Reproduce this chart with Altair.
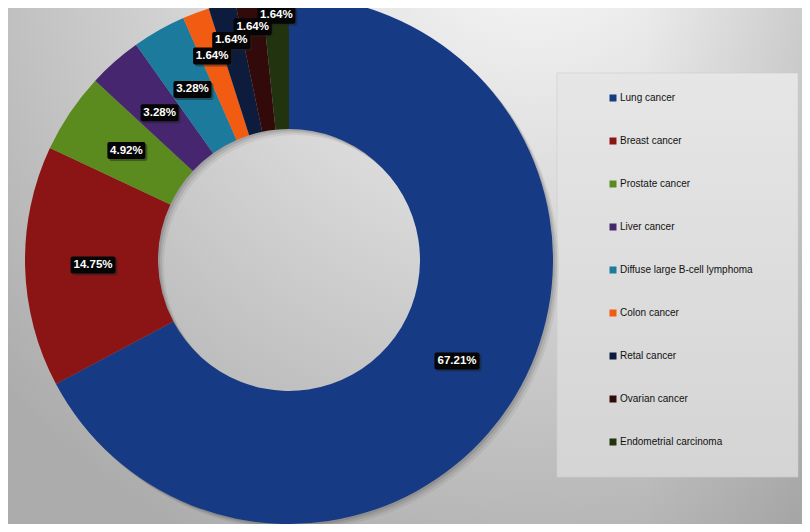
import altair as alt
import pandas as pd

# ---- data ----
categories = ["Lung cancer", "Breast cancer", "Prostate cancer", "Liver cancer",
              "Diffuse large B-cell lymphoma", "Colon cancer", "Retal cancer",
              "Ovarian cancer", "Endometrial carcinoma"]
cases = [41, 9, 3, 2, 2, 1, 1, 1, 1]
shares = [67.21, 14.75, 4.92, 3.28, 3.28, 1.64, 1.64, 1.64, 1.64]
labels = ["67.21%", "14.75%", "4.92%", "3.28%", "3.28%", "1.64%", "1.64%", "1.64%", "1.64%"]
colors = ["#173a85", "#8b1514", "#5b8a1f", "#45266f", "#1c7a9c",
          "#f25c12", "#0d1b3d", "#330a0a", "#22330f"]

df = pd.DataFrame({"cancer": categories, "cases": cases, "share": shares,
                   "label": labels, "rank": list(range(len(categories)))})
one = pd.DataFrame({"k": [0]})

W, H = 794, 516
CX, CY = 281, 252
R_OUT, R_IN = 264, 131

# background
bg = alt.Chart(one).mark_rect(fill={
    "gradient": "radial", "x1": 0.66, "y1": 0.05, "r1": 0.0,
    "x2": 0.66, "y2": 0.05, "r2": 0.9,
    "stops": [{"offset": 0.0, "color": "#fbfbfb"},
              {"offset": 0.35, "color": "#e0e0e0"},
              {"offset": 0.7, "color": "#c4c4c4"},
              {"offset": 1.0, "color": "#acacac"}]}).encode(
    x=alt.value(0), x2=alt.value(W), y=alt.value(0), y2=alt.value(H))

vign = alt.Chart(one).mark_rect(fill={
    "gradient": "linear", "x1": 0, "y1": 0, "x2": 1, "y2": 0,
    "stops": [{"offset": 0.0, "color": "rgba(0,0,0,0)"},
              {"offset": 0.8, "color": "rgba(0,0,0,0)"},
              {"offset": 1.0, "color": "rgba(0,0,0,0.07)"}]}).encode(
    x=alt.value(0), x2=alt.value(W), y=alt.value(0), y2=alt.value(H))

legend_box = alt.Chart(one).mark_rect(fill={
    "gradient": "linear", "x1": 0, "y1": 0, "x2": 0, "y2": 1,
    "stops": [{"offset": 0.0, "color": "#e6e6e6"},
              {"offset": 1.0, "color": "#d4d4d4"}]},
    stroke="#cfcfcf", strokeWidth=0.6).encode(
    x=alt.value(549), x2=alt.value(790), y=alt.value(65), y2=alt.value(469))

# donut shadows
shadows = []
for off, op in [(2, 0.10), (4, 0.08), (6, 0.05)]:
    shadows.append(alt.Chart(one).mark_arc(
        outerRadius=R_OUT, innerRadius=R_IN, color="#000000", opacity=op).encode(
        theta=alt.value(0), theta2=alt.value(6.2832),
        x=alt.value(CX + off), y=alt.value(CY + off)))

arcs = alt.Chart(df).mark_arc(outerRadius=R_OUT, innerRadius=R_IN).encode(
    theta=alt.Theta("cases:Q", stack=True),
    order=alt.Order("rank:Q"),
    color=alt.Color("cancer:N", sort=categories,
                    scale=alt.Scale(domain=categories, range=colors),
                    legend=alt.Legend(title=None, orient="none", legendX=600, legendY=85,
                                      symbolType="square", symbolSize=49,
                                      symbolStrokeWidth=0, symbolOpacity=1,
                                      labelFontSize=10, labelFont="Liberation Sans",
                                      labelColor="#111111", labelOffset=2,
                                      rowPadding=33, padding=0, labelLimit=300)),
    x=alt.value(CX), y=alt.value(CY))

lab = alt.Chart(df).transform_joinaggregate(
    total="sum(cases)"
).transform_window(
    cum="sum(cases)", sort=[alt.SortField("rank")], frame=[None, 0]
).transform_calculate(
    mid="2*PI*(datum.cum - datum.cases/2)/datum.total",
    lr="datum.share > 3 ? 196 : 218 + 9*(datum.rank-5)",
    lx=f"{CX} + datum.lr*sin(datum.mid)",
    ly=f"{CY} - datum.lr*cos(datum.mid)",
    bw="length(datum.label)*7 + 3",
    bx1="datum.lx - datum.bw/2", bx2="datum.lx + datum.bw/2",
    by1="datum.ly - 8.5", by2="datum.ly + 8.5",
    sx1="datum.bx1 + 2", sx2="datum.bx2 + 2", sy1="datum.by1 + 2", sy2="datum.by2 + 2",
)

box_shadow = lab.mark_rect(color="#222222", opacity=0.45, cornerRadius=2).encode(
    x=alt.X("sx1:Q", scale=None, axis=None), x2="sx2:Q",
    y=alt.Y("sy1:Q", scale=None, axis=None), y2="sy2:Q")
boxes = lab.mark_rect(color="#050505", cornerRadius=2).encode(
    x=alt.X("bx1:Q", scale=None, axis=None), x2="bx2:Q",
    y=alt.Y("by1:Q", scale=None, axis=None), y2="by2:Q")
texts = lab.mark_text(color="#ffffff", fontSize=11.5, fontWeight="bold",
                      font="Liberation Sans", baseline="middle", align="center").encode(
    x=alt.X("lx:Q", scale=None, axis=None), y=alt.Y("ly:Q", scale=None, axis=None),
    text="label:N")

chart = alt.layer(bg, vign, legend_box, *shadows, arcs, box_shadow, boxes, texts).properties(
    width=W, height=H, padding=0, autosize=alt.AutoSizeParams(type="none")
).configure_view(stroke=None).resolve_scale(x="independent", y="independent")

chart.save("out.html", embed_options={"renderer": "svg", "actions": False})
